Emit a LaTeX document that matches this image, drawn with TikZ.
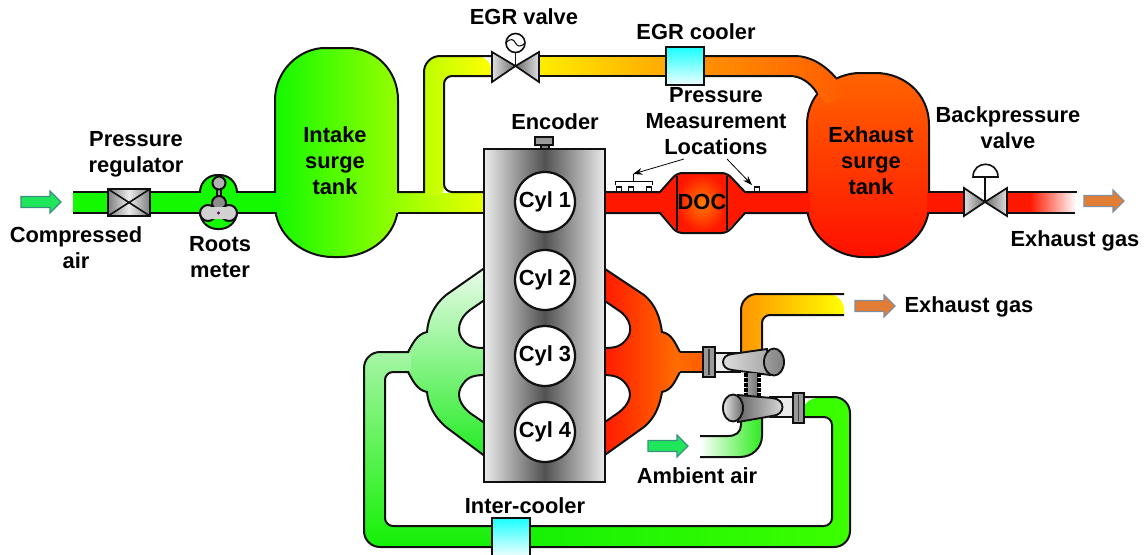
\documentclass[tikz,border=0pt]{standalone}
\usepackage{fontspec}
\setmainfont{Liberation Sans}
\definecolor{grn}{HTML}{14F800}
\definecolor{rd}{HTML}{FF1800}
\definecolor{ln}{HTML}{101010}
\definecolor{arrg}{HTML}{1FE65A}
\definecolor{arrge}{HTML}{3A9080}
\definecolor{arro}{HTML}{E27D35}
\definecolor{arroe}{HTML}{7F8FA0}
\tikzset{
  lbl/.style={font=\fontsize{16.4}{19.5}\selectfont\bfseries,align=center,inner sep=0pt,text=black},
  cyl/.style={font=\fontsize{16.4}{19.5}\selectfont\bfseries,circle,draw=ln,line width=1.7pt,fill=white,minimum size=45pt,inner sep=0pt},
  edge/.style={draw=ln,line width=1.5pt},
  thinarrow/.style={draw=black,line width=0.6pt,-{Stealth[length=7pt,width=5pt]}},
  cooler/.style={draw=ln,line width=1.2pt,top color=cyan!90!white,bottom color=cyan!6!white},
  metal/.style={draw=ln,line width=1.3pt,left color=black!12,right color=black!58},
  metalr/.style={draw=ln,line width=1.3pt,left color=black!58,right color=black!12},
}
\usetikzlibrary{arrows.meta}
\newcommand{\blockarrow}[4]{% x, y, fill, edge
  \draw[fill=#3,draw=#4,line width=0.9pt] (#1,#2-5.5) -- (#1+29,#2-5.5) -- (#1+29,#2-11) -- (#1+40,#2) -- (#1+29,#2+11) -- (#1+29,#2+5.5) -- (#1,#2+5.5) -- cycle;}
\begin{document}
\begin{tikzpicture}[x=0.75pt,y=-0.75pt]
\useasboundingbox (0,0) rectangle (1147,554);
% ---------- intake line
\path[fill=grn] (73,192) rectangle (277,213);
\draw[edge] (73,192) -- (108,192) (150,192) -- (277,192) (73,213) -- (108,213) (150,213) -- (277,213);
% Roots meter
\draw[edge,fill=grn,rounded corners=13pt] (200,175) rectangle (237,229);
\path[fill=grn] (198,193) rectangle (239,212);
% intake tank
\draw[edge,left color=grn,right color={rgb,255:red,150;green,255;blue,0}]
  (275,100) .. controls (275,70) and (300,48) .. (325,48) -- (348,48) .. controls (375,48) and (398,70) .. (398,100)
  -- (398,205) .. controls (398,235) and (370,257) .. (340,257) -- (333,257) .. controls (303,257) and (275,235) .. (275,205) -- cycle;
\path[fill=grn] (270,193) rectangle (277,212);
\draw[edge] (268,192) -- (275,192) (268,213) -- (275,213);
% intake to engine
\path[left color={rgb,255:red,150;green,255;blue,0},right color={rgb,255:red,232;green,255;blue,0}] (396,193) rectangle (485,212);
\path[left color={rgb,255:red,190;green,255;blue,0},right color={rgb,255:red,255;green,255;blue,0}]
  (424,196) [rounded corners=12pt] -- (424,56) -- (492,56) [sharp corners] -- (492,76) [rounded corners=6pt] -- (444,76) -- (444,196) [sharp corners] -- cycle;
\draw[edge] (398,192) -- (424,192) [rounded corners=12pt] -- (424,56) -- (492,56);
\draw[edge] (492,76) [rounded corners=6pt] -- (444,76) -- (444,192) [sharp corners] -- (484,192);
\draw[edge] (398,213) -- (484,213);
% ---------- EGR pipe
\path[left color={rgb,255:red,255;green,238;blue,0},right color={rgb,255:red,255;green,168;blue,0}] (537,57) rectangle (668,75);
\draw[edge] (539,56) -- (666,56) (539,76) -- (666,76);
% exhaust tank
\draw[edge,top color={rgb,255:red,255;green,100;blue,0},bottom color={rgb,255:red,255;green,16;blue,0}]
  (807,125) .. controls (807,92) and (835,73) .. (860,73) -- (876,73) .. controls (902,73) and (929,92) .. (929,125)
  -- (929,205) .. controls (929,235) and (900,257) .. (873,257) -- (863,257) .. controls (835,257) and (807,235) .. (807,205) -- cycle;
% EGR pipe, cooler to tank
\path[left color={rgb,255:red,255;green,145;blue,0},right color={rgb,255:red,255;green,92;blue,0}]
  (702,57) -- (795,57) .. controls (810,57) and (825,66) .. (836,79) -- (845,95) -- (826,105) -- (817,92) .. controls (810,82) and (800,75) .. (790,75) -- (702,75) -- cycle;
\draw[edge] (704,56) -- (795,56) .. controls (810,56) and (825,65) .. (836,78);
\draw[edge] (704,76) -- (790,76) .. controls (800,76) and (810,82) .. (817,93);
% ---------- exhaust line with DOC
\path[fill=rd] (604,193) rectangle (662,212) (743,193) rectangle (810,212);
\path[fill=rd] (660,193) -- (678,173) -- (726,173) -- (745,193) -- (745,212) -- (726,232) -- (678,232) -- (660,212) -- cycle;
\path[inner color={rgb,255:red,255;green,125;blue,0},outer color=rd] (677,174) rectangle (727,232);
\draw[edge] (605,192) -- (660,192) [rounded corners=4pt] -- (677,173) -- (727,173) [sharp corners] -- (745,192) -- (807,192);
\draw[edge] (605,213) -- (660,213) [rounded corners=4pt] -- (677,233) -- (727,233) [sharp corners] -- (745,213) -- (807,213);
\draw[edge,line width=1.1pt] (677,176) -- (677,230) (727,176) -- (727,230);
% taps
\foreach \tx in {619,631,649,757} \draw[draw=ln,line width=0.8pt,fill=white] (\tx-2.5,187) rectangle (\tx+2.5,192);
\coordinate (brkL) at (615,185);
\coordinate (brkR) at (652,185);
\coordinate (brkM) at (633,174);
\draw[draw=black,line width=0.5pt] (brkL) -- (615,181) -- (652,181) -- (brkR) (633,181) -- (brkM);
% exhaust tail
\path[fill=rd] (927,193) rectangle (966,212) (1005,193) rectangle (1030,212);
\path[left color=rd,right color=white] (1030,193) rectangle (1076,212);
\draw[edge] (929,192) -- (964,192) (929,213) -- (964,213) (1007,192) -- (1077,192) (1007,213) -- (1075,213);
% ---------- manifolds
% intake manifold
\draw[edge,top color={rgb,255:red,235;green,252;blue,235},bottom color={rgb,255:red,35;green,235;blue,35}]
  (408,352) .. controls (413,343) and (417,334) .. (427,332) .. controls (428,318) and (434,305) .. (446,295) -- (486,267) -- (486,457) -- (446,427)
  .. controls (434,417) and (428,404) .. (427,392) .. controls (417,390) and (413,381) .. (408,372);
\draw[edge,fill=white] (486,299) -- (470,310) .. controls (459,318) and (455,332) .. (464,341) .. controls (470,348) and (478,348) .. (486,348) -- cycle;
\draw[edge,fill=white] (486,375) .. controls (476,375) and (468,376) .. (463,384) .. controls (455,394) and (460,405) .. (470,413) -- (486,424) -- cycle;
% exhaust manifold
\draw[edge,left color=rd,right color={rgb,255:red,255;green,112;blue,0}]
  (680,352) .. controls (675,343) and (672,334) .. (662,332) .. controls (660,318) and (656,305) .. (644,295) -- (602,267) -- (602,457) -- (644,427)
  .. controls (656,417) and (660,404) .. (662,392) .. controls (672,390) and (675,381) .. (680,372);
\draw[edge,fill=white] (602,299) -- (618,310) .. controls (631,318) and (634,332) .. (625,341) .. controls (619,348) and (611,348) .. (602,348) -- cycle;
\draw[edge,fill=white] (602,375) .. controls (612,375) and (620,376) .. (626,384) .. controls (634,394) and (629,405) .. (618,413) -- (602,424) -- cycle;
\path[left color={rgb,255:red,255;green,108;blue,0},right color={rgb,255:red,255;green,92;blue,0}] (678,353) rectangle (705,371);
\draw[edge] (680,352) -- (704,352) (680,372) -- (704,372);
% ---------- intercooler loop
\path[top color={rgb,255:red,165;green,245;blue,165},bottom color={rgb,255:red,20;green,240;blue,5}]
  (411,353) [rounded corners=12pt] -- (364,353) -- (364,547) -- (512,547) [sharp corners] -- (512,526) [rounded corners=6pt] -- (385,526) -- (385,371) [sharp corners] -- (411,371) -- cycle;
\path[left color={rgb,255:red,20;green,240;blue,5},right color={rgb,255:red,60;green,255;blue,0}]
  (510,527) -- (510,546) [rounded corners=12pt] -- (850,546) -- (850,398) -- (802,398) [sharp corners] -- (802,416) [rounded corners=6pt] -- (832,416) -- (832,527) [sharp corners] -- cycle;
\draw[edge,rounded corners=12pt] (409,352) -- (364,352) -- (364,547) -- (850,547) -- (850,397) -- (804,397);
\draw[edge,rounded corners=6pt] (409,372) -- (385,372) -- (385,526) -- (832,526) -- (832,417) -- (804,417);
% ---------- engine
\draw[draw=ln,line width=1.3pt,left color=black!8,right color=black!8,middle color=black!68] (484,149) rectangle (605,482);
\draw[draw=ln,line width=1.1pt,fill=black!50] (541,144) rectangle (549,149);
\draw[draw=ln,line width=1.1pt,fill=black!40] (535,137) rectangle (553,145);
\node[cyl] (c1) at (545,202) {Cyl 1};
\node[cyl] (c2) at (545,280) {Cyl 2};
\node[cyl] (c3) at (545,356) {Cyl 3};
\node[cyl] (c4) at (545,432) {Cyl 4};
% ---------- coolers
\draw[cooler] (666,47) rectangle (704,85);
\draw[cooler] (492,518) rectangle (530,556);
% ---------- pressure regulator
\draw[draw=ln,line width=1.5pt,left color=black!50,right color=black!50,middle color=black!8] (108,189) rectangle (150,216);
\draw[draw=ln,line width=1.2pt] (108,189) -- (150,216) (108,216) -- (150,189);
% ---------- roots lobes
\draw[draw=ln,line width=1.5pt,fill=black!35] (217,186) rectangle (221,198);
\draw[draw=ln,line width=1.5pt,fill=black!30] (219,183) circle [radius=6.5];
\draw[draw=ln,line width=1.5pt,fill=black!45] (219,203) circle [radius=7];
\draw[draw=ln,line width=1.5pt,fill=black!18] (208,213) circle [radius=8];
\draw[draw=ln,line width=1.5pt,fill=black!18] (229,213) circle [radius=8];
\path[fill=black!18] (208,207) rectangle (229,219);
\fill[violet!70!black] (218.5,213) circle [radius=1.6];
% ---------- EGR valve
\draw[metal] (492,52) -- (515.5,66) -- (492,82) -- cycle;
\draw[metalr] (539,52) -- (515.5,66) -- (539,82) -- cycle;
\draw[draw=ln,line width=1.1pt] (515.5,52) -- (515.5,66);
\draw[draw=ln,line width=1.2pt,fill=white] (515.5,43) circle [radius=9.5];
\draw[draw=ln,line width=0.8pt] (506,43) .. controls (511,37) and (514,40) .. (515.5,43) .. controls (517,46) and (520,48) .. (525,43);
% ---------- backpressure valve
\draw[metal] (964,188) -- (985,202) -- (964,216) -- cycle;
\draw[metalr] (1007,188) -- (985,202) -- (1007,216) -- cycle;
\draw[draw=ln,line width=1.1pt] (985,177) -- (985,202);
\draw[draw=ln,line width=1.2pt,fill=white] (973,177) .. controls (973,160) and (998,160) .. (998,177) -- cycle;
% ---------- turbocharger
\path[left color={rgb,255:red,255;green,149;blue,0},right color={rgb,255:red,255;green,255;blue,0}]
  (741,370) [rounded corners=12pt] -- (741,294) -- (844,294) [sharp corners] -- (844,315) [rounded corners=6pt] -- (762,315) -- (762,370) [sharp corners] -- cycle;
\draw[edge] (741,360) [rounded corners=12pt] -- (741,294) -- (844,294);
\draw[edge] (844,315) [rounded corners=6pt] -- (762,315) -- (762,360);
\draw[edge,left color=white,right color={rgb,255:red,45;green,235;blue,30}]
  (700,436) -- (728,436) .. controls (736,436) and (741,432) .. (741,425) -- (741,412) -- (762,412) -- (762,436) .. controls (762,448) and (752,457) .. (740,457) -- (700,457);
\draw[draw=ln,line width=1.2pt,fill=black!8] (712,353) rectangle (740,372);
\draw[draw=ln,line width=1.4pt,left color=black!12,middle color=black!60,right color=black!35]
  (767,349) -- (732,354) .. controls (720,355) and (720,369) .. (732,370) -- (770,375) -- cycle;
\draw[draw=ln,line width=1.4pt,left color=black!38,middle color=black!10,right color=black!50] (774,362) ellipse [x radius=10,y radius=13.5];
\draw[draw=ln,line width=1.2pt,fill=black!8] (770,397) rectangle (795,417);
\draw[draw=none,left color=black!35,right color=black!55] (746,373) rectangle (758,396);
\draw[draw=black,line width=2.6pt,dash pattern=on 3pt off 0.7pt] (746,373) -- (746,396) (759,373) -- (759,396);
\draw[draw=ln,line width=1.4pt,left color=black!60,middle color=black!55,right color=black!12]
  (738,395) -- (772,398) .. controls (786,399) and (786,415) .. (772,416) -- (738,422) -- cycle;
\draw[draw=ln,line width=1.4pt,left color=black!10,right color=black!58] (733,408) ellipse [x radius=10,y radius=13.5];
\draw[draw=ln,line width=1.2pt,fill=black!40] (703,347) rectangle (715,377);
\draw[draw=ln,line width=1.2pt,fill=black!40] (793,393) rectangle (804,423);
\draw[draw=black!75,line width=1pt] (709,349) -- (709,375) (798.5,395) -- (798.5,421);
% ---------- block arrows
\blockarrow{21}{202}{arrg}{arrge}
\blockarrow{1084}{201}{arro}{arroe}
\blockarrow{855}{306}{arro}{arroe}
\blockarrow{648}{446}{arrg}{arrge}
% ---------- labels
\node[lbl] (lreg) at (136,154.5) {Pressure\\regulator};
\node[lbl] (lair) at (76,248) {Compressed\\air};
\node[lbl] (lroots) at (220,257) {Roots\\meter};
\node[lbl] (lintake) at (335,160.5) {Intake\\surge\\tank};
\node[lbl] (legrv) at (524,17) {EGR valve};
\node[lbl] (legrc) at (696,32) {EGR cooler};
\node[lbl] (lenc) at (555,122) {Encoder};
\node[lbl] (lpm) at (716,121.5) {Pressure\\Measurement\\Locations};
\node[lbl] (ldoc) at (702,202) {DOC};
\node[lbl] (lexh) at (871,160.5) {Exhaust\\surge\\tank};
\node[lbl] (lback) at (1008,128) {Backpressure\\valve};
\node[lbl] (lgas1) at (1075,241) {Exhaust gas};
\node[lbl] (lgas2) at (969,307) {Exhaust gas};
\node[lbl] (lamb) at (697,476) {Ambient air};
\node[lbl] (lint) at (525,506) {Inter-cooler};
% ---------- leaders
\coordinate (tap) at (752,185);
\coordinate (p1) at (684,159);
\coordinate (p2) at (727,159);
\draw[thinarrow] (p1) -- (brkM);
\draw[thinarrow] (p2) -- (tap);
\end{tikzpicture}
\end{document}
